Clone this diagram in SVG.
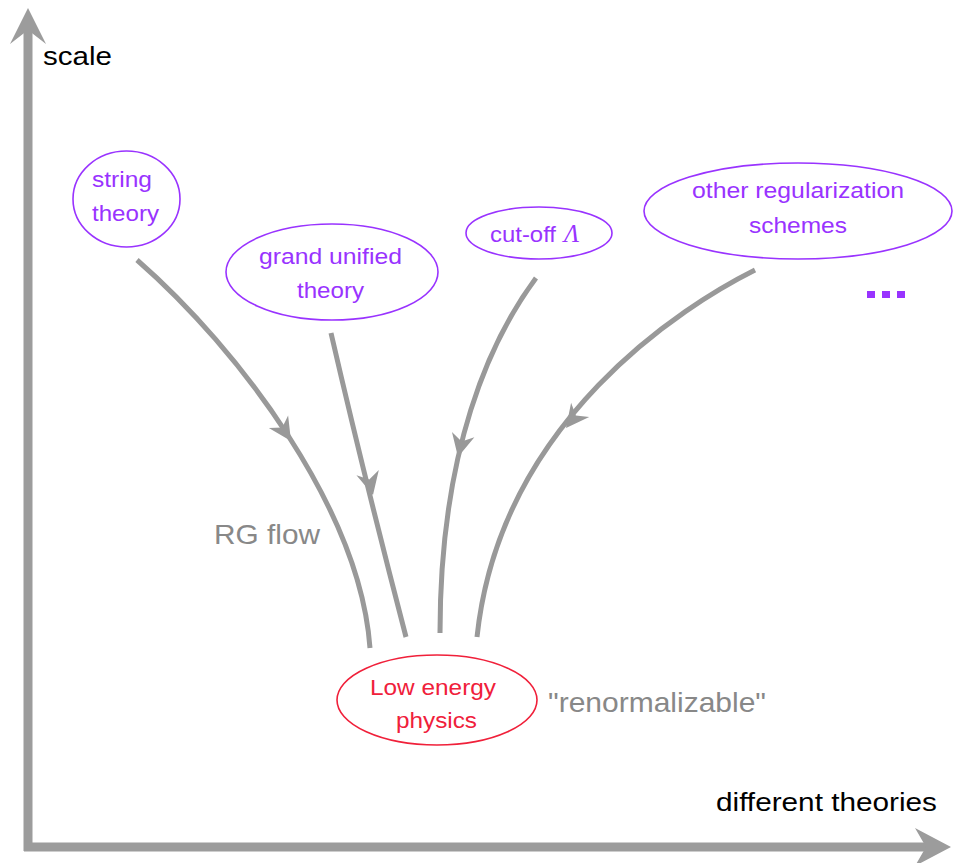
<svg xmlns="http://www.w3.org/2000/svg" width="953" height="863" viewBox="0 0 953 863">
<style>
.axis{fill:none;stroke:#9c9c9c;stroke-width:9}
.axhead{fill:#9c9c9c}
.flow{fill:none;stroke:#999;stroke-width:5}
.head{fill:#999}
.pnode{fill:#fff;stroke:#9933ff;stroke-width:1.6}
.rnode{fill:#fff;stroke:#f0203a;stroke-width:1.6}
.ptext{fill:#9933ff;font-family:"Liberation Sans",Arial,sans-serif;font-size:22px}
.rtext{fill:#f0203a;font-family:"Liberation Sans",Arial,sans-serif;font-size:22px}
.btext{fill:#000;font-family:"Liberation Sans",Arial,sans-serif;font-size:25px}
.gtext{fill:#888;font-family:"Liberation Sans",Arial,sans-serif;font-size:28px}
</style>
<defs>
<path id="ah" d="M0,0 L-23,-11.5 L-16,0 L-23,11.5 Z"/>
</defs>
<g id="axes">
<line class="axis" x1="28" y1="28" x2="28" y2="851"/>
<path class="axhead" d="M28,8 L46,44 L28,30 L10,44 Z"/>
<line class="axis" x1="24" y1="847" x2="930" y2="847"/>
<path class="axhead" d="M951,847 L915,828 L926,847 L915,866 Z"/>
<text class="btext" x="43" y="65" textLength="69" lengthAdjust="spacingAndGlyphs">scale</text>
<text class="btext" x="716" y="811" textLength="221" lengthAdjust="spacingAndGlyphs">different theories</text>
</g>
<g id="connectors">
<path class="flow" d="M137,260 C240,350 360,510 370,648"/>
<use href="#ah" class="head" transform="translate(291,441) rotate(57)"/>
<path class="flow" d="M331,333 Q365,480 406,637"/>
<use href="#ah" class="head" transform="translate(373,495) rotate(76.5)"/>
<path class="flow" d="M536,278 C490,340 440,450 440,633"/>
<use href="#ah" class="head" transform="translate(458,457) rotate(103)"/>
<path class="flow" d="M755,270 C685,305 500,420 477,637"/>
<use href="#ah" class="head" transform="translate(566,428) rotate(128)"/>
</g>
<g id="string-theory">
<ellipse class="pnode" cx="126.5" cy="199" rx="53.5" ry="48"/>
<text class="ptext" x="92" y="187" textLength="60" lengthAdjust="spacingAndGlyphs">string</text>
<text class="ptext" x="92" y="221" textLength="67" lengthAdjust="spacingAndGlyphs">theory</text>
</g>
<g id="grand-unified-theory">
<ellipse class="pnode" cx="332" cy="272" rx="106" ry="48"/>
<text class="ptext" x="259" y="264" textLength="143" lengthAdjust="spacingAndGlyphs">grand unified</text>
<text class="ptext" x="297" y="298" textLength="67" lengthAdjust="spacingAndGlyphs">theory</text>
</g>
<g id="cut-off">
<ellipse class="pnode" cx="539" cy="233" rx="73" ry="26"/>
<text class="ptext" y="242"><tspan x="490" textLength="66" lengthAdjust="spacingAndGlyphs">cut-off</tspan><tspan x="564" font-family="'Liberation Serif','Times New Roman',serif" font-style="italic" font-size="25px">Λ</tspan></text>
</g>
<g id="other-regularization-schemes">
<ellipse class="pnode" cx="798" cy="211" rx="154" ry="48"/>
<text class="ptext" x="692" y="198" textLength="212" lengthAdjust="spacingAndGlyphs">other regularization</text>
<text class="ptext" x="749" y="233" textLength="98" lengthAdjust="spacingAndGlyphs">schemes</text>
</g>
<g id="ellipsis" fill="#9933ff">
<rect x="867" y="291" width="8" height="7"/>
<rect x="882" y="291" width="8" height="7"/>
<rect x="897" y="291" width="8" height="7"/>
</g>
<g id="low-energy-physics">
<ellipse class="rnode" cx="437" cy="700" rx="100" ry="45"/>
<text class="rtext" x="370" y="695" textLength="126" lengthAdjust="spacingAndGlyphs">Low energy</text>
<text class="rtext" x="396" y="728" textLength="81" lengthAdjust="spacingAndGlyphs">physics</text>
</g>
<g id="labels">
<text class="gtext" x="214" y="544" textLength="106" lengthAdjust="spacingAndGlyphs">RG flow</text>
<text class="gtext" x="548" y="712" textLength="218" lengthAdjust="spacingAndGlyphs">"renormalizable"</text>
</g>
</svg>
